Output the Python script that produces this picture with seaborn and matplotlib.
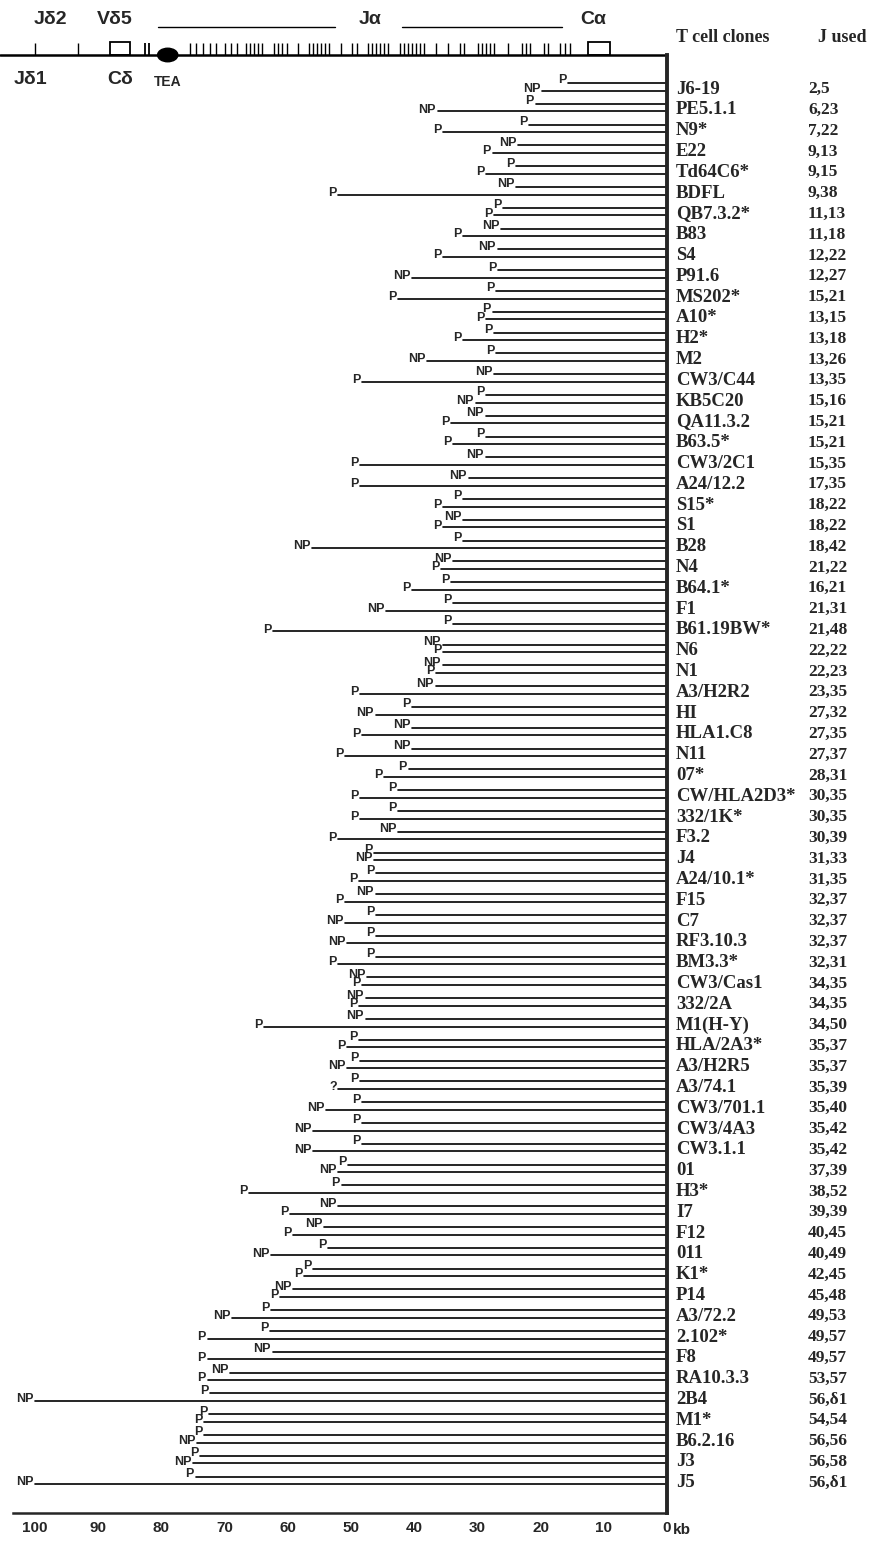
import numpy as np
import pandas as pd
import seaborn as sns
import matplotlib.pyplot as plt
from matplotlib.patches import Rectangle, Ellipse

# T cell clones, J segments used, and the two deleted regions (kb from C alpha)
clones = ["J6-19", "PE5.1.1", "N9*", "E22", "Td64C6*", "BDFL", "QB7.3.2*", "B83", "S4", "P91.6",
          "MS202*", "A10*", "H2*", "M2", "CW3/C44", "KB5C20", "QA11.3.2", "B63.5*", "CW3/2C1", "A24/12.2",
          "S15*", "S1", "B28", "N4", "B64.1*", "F1", "B61.19BW*", "N6", "N1", "A3/H2R2",
          "HI", "HLA1.C8", "N11", "07*", "CW/HLA2D3*", "332/1K*", "F3.2", "J4", "A24/10.1*", "F15",
          "C7", "RF3.10.3", "BM3.3*", "CW3/Cas1", "332/2A", "M1(H-Y)", "HLA/2A3*", "A3/H2R5", "A3/74.1", "CW3/701.1",
          "CW3/4A3", "CW3.1.1", "01", "H3*", "I7", "F12", "011", "K1*", "P14", "A3/72.2",
          "2.102*", "F8", "RA10.3.3", "2B4", "M1*", "B6.2.16", "J3", "J5"]
j_used = ["2,5", "6,23", "7,22", "9,13", "9,15", "9,38", "11,13", "11,18", "12,22", "12,27",
          "15,21", "13,15", "13,18", "13,26", "13,35", "15,16", "15,21", "15,21", "15,35", "17,35",
          "18,22", "18,22", "18,42", "21,22", "16,21", "21,31", "21,48", "22,22", "22,23", "23,35",
          "27,32", "27,35", "27,37", "28,31", "30,35", "30,35", "30,39", "31,33", "31,35", "32,37",
          "32,37", "32,37", "32,31", "34,35", "34,35", "34,50", "35,37", "35,37", "35,39", "35,40",
          "35,42", "35,42", "37,39", "38,52", "39,39", "40,45", "40,49", "42,45", "45,48", "49,53",
          "49,57", "49,57", "53,57", "56,\u03b41", "54,54", "56,56", "56,58", "56,\u03b41"]
upper_kb = [15.7, 20.8, 21.9, 23.6, 23.9, 23.9, 26.0, 26.3, 26.8, 26.8,
            27.1, 27.6, 27.4, 27.1, 27.4, 28.7, 28.7, 28.7, 28.7, 31.4,
            32.2, 32.2, 32.3, 33.9, 34.2, 33.9, 33.8, 35.5, 35.5, 36.6,
            40.3, 40.3, 40.3, 40.9, 42.5, 42.5, 42.5, 46.4, 46.1, 46.1,
            46.1, 46.1, 46.1, 47.4, 47.7, 47.7, 48.7, 48.5, 48.5, 48.3,
            48.3, 48.3, 50.4, 51.5, 52.1, 54.2, 53.7, 56.0, 59.1, 62.6,
            62.8, 62.4, 69.1, 72.3, 72.4, 73.2, 73.9, 74.6]
upper_lab = ["P", "P", "P", "NP", "P", "NP", "P", "NP", "NP", "P",
             "P", "P", "P", "P", "NP", "P", "NP", "P", "NP", "NP",
             "P", "NP", "P", "NP", "P", "P", "P", "NP", "NP", "NP",
             "P", "NP", "NP", "P", "P", "P", "NP", "P", "P", "NP",
             "P", "P", "P", "NP", "NP", "NP", "P", "P", "P", "P",
             "P", "P", "P", "P", "NP", "NP", "P", "P", "NP", "P",
             "P", "NP", "NP", "P", "P", "P", "P", "P"]
lower_kb = [19.7, 36.3, 35.5, 27.6, 28.7, 52.0, 27.4, 32.3, 35.5, 40.3,
            42.6, 28.7, 32.2, 37.9, 48.2, 30.3, 34.2, 33.9, 48.5, 48.5,
            35.5, 35.5, 56.1, 35.8, 40.3, 44.5, 62.4, 35.5, 36.6, 48.5,
            46.1, 48.2, 50.9, 44.8, 48.5, 48.5, 52.1, 46.4, 48.8, 50.9,
            50.9, 50.6, 52.0, 48.2, 48.7, 63.7, 50.6, 50.6, 52.0, 53.9,
            56.0, 56.0, 52.1, 66.1, 59.6, 59.1, 62.6, 57.4, 61.3, 68.8,
            72.7, 72.7, 72.7, 100.0, 73.2, 74.3, 75.0, 100.0]
lower_lab = ["NP", "NP", "P", "P", "P", "P", "P", "P", "P", "NP",
             "P", "P", "P", "NP", "P", "NP", "P", "P", "P", "P",
             "P", "P", "NP", "P", "P", "NP", "P", "P", "P", "P",
             "NP", "P", "P", "P", "P", "P", "P", "NP", "P", "P",
             "NP", "NP", "P", "P", "P", "P", "P", "NP", "?", "NP",
             "NP", "NP", "NP", "P", "P", "P", "NP", "P", "P", "NP",
             "P", "P", "P", "NP", "P", "NP", "NP", "NP"]

# gene map of the locus (kb)
ja_ticks = [75.5, 74.5, 73.4, 72.3, 71.4, 69.9, 69.0, 68.0, 66.6, 66.0, 65.3, 64.7, 64.1,
            62.2, 61.6, 60.9, 60.1, 58.4, 56.6, 56.0, 55.4, 54.7, 54.1, 53.5, 51.6, 49.8, 49.1,
            47.3, 46.7, 46.0, 45.4, 44.8, 44.1, 42.2, 41.6, 41.0, 40.3, 39.7, 39.1, 38.4, 36.6,
            34.7, 32.8, 32.1, 29.9, 29.3, 28.6, 28.0, 27.4, 25.2, 22.9, 22.3, 21.7, 19.5, 18.8,
            16.9, 16.1, 15.3]
jd_ticks = [100.0, 93.2]
vd5_ticks = [82.6, 82.0]
cd_box = (88.1, 85.0)
ca_box = (12.5, 9.0)
tea_kb = 79.0

sns.set_style("white")
plt.rcParams['font.family'] = ['Liberation Sans', 'DejaVu Sans']

W, H = 876, 1547
X0, Y0, DY, PXKB = 667, 87, 20.8, 6.32
YB = 1513  # bottom axis


def kb(px):
    return (X0 - px) / PXKB


def rw(py):
    return (py - Y0) / DY


fig = plt.figure(figsize=(W / 100, H / 100), dpi=100)
ax = fig.add_axes([13 / W, 1 - YB / H, (X0 - 13) / W, (YB - 55) / H])

n = len(clones)
recs = []
for i in range(n):
    for k, (start, dy) in enumerate([(upper_kb[i], -0.19), (lower_kb[i], 0.17)]):
        recs.append({"kb": start, "y": i + dy, "seg": 2 * i + k})
        recs.append({"kb": 0.0, "y": i + dy, "seg": 2 * i + k})
segs = pd.DataFrame(recs)
sns.lineplot(data=segs, x="kb", y="y", units="seg", estimator=None, sort=False,
             color="black", linewidth=1.2, legend=False, ax=ax)

lab_kw = dict(ha="right", va="baseline", fontsize=9, fontweight="bold", clip_on=False)
serif = ["Liberation Serif", "DejaVu Serif"]
for i in range(n):
    ax.text(upper_kb[i] + 0.25, i - 0.19 + 0.02, upper_lab[i], **lab_kw)
    ax.text(lower_kb[i] + 0.25, i + 0.17 + 0.06, lower_lab[i], **lab_kw)
    ax.text(kb(676), i + 0.1, clones[i], ha="left", va="center", fontsize=13.5,
            fontweight="bold", family=serif, clip_on=False)
    ax.text(kb(808), i + 0.1, j_used[i], ha="left", va="center", fontsize=12.5,
            fontweight="bold", family=serif, clip_on=False)

ax.set_xlim(kb(13), 0)
ax.set_ylim(rw(YB), rw(55))
ax.set_xlabel("")
ax.set_ylabel("")
ax.set_yticks([])
ax.set_xticks(np.arange(100, -1, -10))
ax.set_xticklabels([str(v) for v in range(100, -1, -10)], fontsize=11, fontweight="bold")
ax.tick_params(axis="x", direction="out", length=4, width=1.5, pad=2)
sns.despine(ax=ax, top=True, left=True, right=False, bottom=False)
ax.spines["right"].set_linewidth(2.8)
ax.spines["bottom"].set_linewidth(1.8)
ax.text(kb(673), rw(YB + 17), "kb", ha="left", va="center", fontsize=11,
        fontweight="bold", clip_on=False)

# header: gene map
gy = rw(55)
ax.plot([kb(0), 0], [gy, gy], color="black", lw=1.8, clip_on=False)
tick_top = rw(43)
ax.vlines(ja_ticks, gy, tick_top, colors="black", lw=1.0, clip_on=False)
ax.vlines(jd_ticks, gy, tick_top, colors="black", lw=1.0, clip_on=False)
ax.vlines(vd5_ticks, gy, tick_top, colors="black", lw=1.3, clip_on=False)
for a, b in [cd_box, ca_box]:
    ax.add_patch(Rectangle((b, gy), a - b, rw(42) - gy, fill=False, ec="black", lw=1.3, clip_on=False))
ax.add_patch(Ellipse((tea_kb, gy), 3.2, 0.65, color="black", clip_on=False))

hk = dict(ha="center", va="center", fontsize=14, fontweight="bold", clip_on=False)
ty = rw(20)
ax.text(kb(50), ty, "J\u03b42", **hk)
ax.text(kb(115), ty, "V\u03b45", **hk)
ax.text(kb(370), ty, "J\u03b1", **hk)
ax.text(kb(593), ty, "C\u03b1", **hk)
ax.plot([kb(158), kb(335)], [rw(27), rw(27)], color="black", lw=1.0, clip_on=False)
ax.plot([kb(402), kb(562)], [rw(27), rw(27)], color="black", lw=1.0, clip_on=False)
by = rw(79)
ax.text(kb(30), by, "J\u03b41", **hk)
ax.text(kb(120), by, "C\u03b4", **hk)
ax.text(kb(168), rw(82), "TEA", ha="center", va="center", fontsize=10,
        fontweight="bold", clip_on=False)

ax.text(kb(676), rw(38), "T cell clones", ha="left", va="center", fontsize=13,
        fontweight="bold", family=serif, clip_on=False)
ax.text(kb(818), rw(38), "J used", ha="left", va="center", fontsize=13,
        fontweight="bold", family=serif, clip_on=False)

fig.savefig("out.png", dpi=100)
